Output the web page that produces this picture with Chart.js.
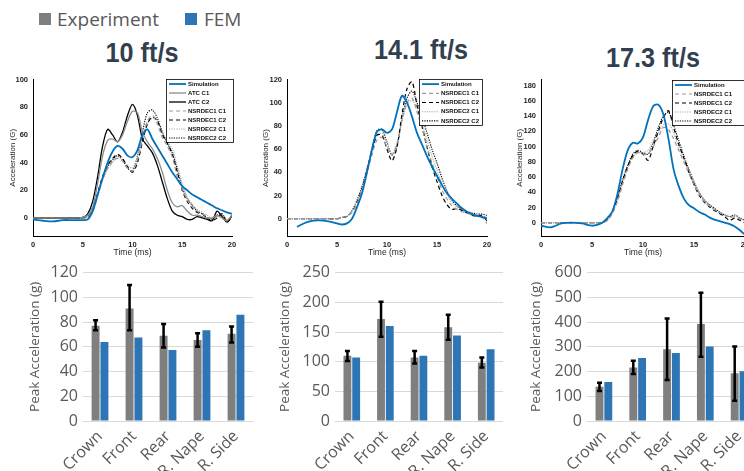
<!DOCTYPE html>
<html lang="en">
<head>
<meta charset="UTF-8">
<script src="https://cdn.jsdelivr.net/npm/chart.js"></script>
<title>Peak acceleration</title>
<style>
    body { margin: 0; width: 744px; height: 471px; overflow: hidden; background: #fff; position: relative; font-family: "Open Sans", sans-serif; }
    canvas { position: absolute; }
    .tit { position: absolute; font-family: "Liberation Sans", Arial, sans-serif; font-weight: bold; font-size: 28px; color: #323f4f; line-height: 1; white-space: nowrap; transform: translateX(-50%) scaleX(0.9); }
    .leg { position: absolute; top: 10px; font-size: 19px; color: #595959; line-height: 1; }
    .sq { position: absolute; top: 13px; width: 12px; height: 12px; }
</style>
</head>
<body>
    <div class="sq" style="left:39px; background:#7f7f7f;"></div>
    <div class="leg" style="left:57px;">Experiment</div>
    <div class="sq" style="left:185px; background:#2e75b6;"></div>
    <div class="leg" style="left:204px;">FEM</div>

    <div class="tit" style="left:142px; top:39px;">10 ft/s</div>
    <div class="tit" style="left:421px; top:36px;">14.1 ft/s</div>
    <div class="tit" style="left:653px; top:44px;">17.3 ft/s</div>

    <canvas id="l1" width="245" height="190" style="left:0px; top:70px;"></canvas>
    <canvas id="l2" width="250" height="190" style="left:248px; top:70px;"></canvas>
    <canvas id="l3" width="260" height="190" style="left:500px; top:70px;"></canvas>
    <canvas id="b1" width="258" height="213" style="left:0px; top:258px;"></canvas>
    <canvas id="b2" width="256" height="213" style="left:252px; top:258px;"></canvas>
    <canvas id="b3" width="260" height="213" style="left:505px; top:258px;"></canvas>

<script>
    // time base (ms) shared by the acceleration traces
    var tempo = [0, 1, 2, 3, 4, 5, 5.5, 6, 6.5, 7, 7.5, 8, 8.5, 9, 9.5, 10, 10.5, 11, 11.5, 12, 12.5, 13, 13.5, 14, 14.5, 15, 15.5, 16, 16.5, 17, 17.5, 18, 18.5, 19, 19.5, 20];

    // 10 ft/s
    var sim1 = [-1, -2, -2.5, -1.5, -1.5, -1.5, -1, 5, 17, 29, 40, 48, 52, 50, 45, 44, 49, 60, 64, 57, 51, 45, 39, 33, 28, 23, 20, 17, 15, 13, 11, 9, 7, 5.5, 4, 3];
    var atc1_1 = [0, 0, 0, 0, 0, 0.5, 2, 8, 25, 45, 56, 57, 55, 60, 70, 77, 76, 62, 55, 50, 43, 33, 20, 11, 8, 9, 5, 2, 2, 1, 0, 0, 2, 0, -2, 2];
    var atc2_1 = [0, 0, 0, 0, 0, 0.5, 3, 12, 30, 52, 64, 60, 55, 62, 74, 82, 74, 57, 52, 47, 38, 26, 14, 5, 2, 1, -1, -1, 1, 0, -1, -2, 5, 1, -3, 2];
    var n11_1 = [0, 0, 0, 0, 0, 0, 1, 5, 16, 28, 36, 41, 43, 41, 36, 34, 42, 57, 70, 74, 68, 58, 52, 44, 30, 21, 13, 8, 5, 3, 1, -1, 1, 2, -2, 1];
    var n12_1 = [0, 0, 0, 0, 0, 0, 1, 6, 18, 30, 38, 43, 46, 43, 37, 33, 40, 55, 68, 73, 70, 60, 54, 46, 33, 20, 12, 7, 4, 3, 0, -2, 0, 3, -3, 1];
    var n21_1 = [0, 0, 0, 0, 0, 0, 1, 5, 15, 27, 35, 40, 44, 42, 38, 36, 44, 58, 68, 72, 70, 62, 55, 50, 38, 25, 15, 10, 6, 4, 2, 0, 1, 2, -1, 2];
    var n22_1 = [0, 0, 0, 0, 0, 0, 1, 6, 17, 29, 37, 42, 45, 42, 36, 34, 45, 62, 76, 78, 72, 62, 54, 47, 35, 22, 14, 9, 5, 3, 0, -1, 2, 3, -2, 1];

    // 14.1 ft/s
    var sim2 = [null, -7, -3, -1.5, -2, -4, -5, -4, 0, 10, 22, 40, 60, 75, 77, 74, 77, 92, 106, 100, 88, 74, 64, 54, 45, 37, 29, 22, 17, 13, 9, 6, 4, 2.5, 1.5, 0.5];
    var n11_2 = [0, 0, 0, 0, 0, 0, 1, 2, 6, 13, 25, 40, 55, 68, 70, 62, 55, 65, 85, 100, 104, 92, 78, 62, 48, 36, 25, 17, 11, 8, 6, 5, 3, 2, 1, -4];
    var n12_2 = [0, 0, 0, 0, 0, 0, 1, 2, 6, 14, 26, 42, 58, 72, 72, 60, 50, 62, 90, 112, 118, 98, 80, 62, 45, 32, 20, 12, 8, 9, 7, 5, 3, 2, 3, -2];
    var n21_2 = [0, 0, 0, 0, 0, 0, 1, 2, 7, 15, 26, 40, 57, 72, 74, 65, 56, 64, 84, 98, 102, 95, 83, 68, 54, 42, 30, 21, 14, 10, 7, 6, 4, 3, 2, 2];
    var n22_2 = [0, 0, 0, 0, 0, 0, 1, 2, 7, 16, 28, 43, 60, 76, 77, 66, 55, 63, 86, 104, 110, 100, 88, 74, 60, 48, 35, 24, 16, 11, 8, 6, 5, 4, 4, 3];

    // 17.3 ft/s
    var sim3 = [-4, -6, -1, 0, -1, -4, -3, 0, 6, 15, 38, 70, 95, 105, 104, 112, 135, 153, 155, 142, 110, 70, 48, 32, 23, 19, 14, 11, 7, 4, 2, 0, -2, -5, -10, -16];
    var n11_3 = [0, 0, 0, 0, 0, 0, 0, 0, 3, 12, 28, 50, 70, 85, 92, 90, 90, 100, 112, 125, 122, 110, 95, 80, 65, 50, 38, 28, 22, 17, 13, 10, 7, 8, 5, 2];
    var n12_3 = [0, 0, 0, 0, 0, 0, 0, 0, 4, 15, 32, 55, 74, 88, 94, 90, 82, 100, 120, 138, 147, 125, 103, 85, 66, 50, 36, 27, 21, 16, 12, 8, 3, 6, 3, 0];
    var n21_3 = [0, 0, 0, 0, 0, 0, 0, 0, 3, 13, 30, 52, 72, 86, 92, 92, 95, 108, 118, 128, 130, 118, 100, 85, 68, 52, 40, 30, 23, 18, 14, 11, 8, 9, 5, 3];
    var n22_3 = [0, 0, 0, 0, 0, 0, 0, 0, 4, 15, 33, 56, 75, 90, 95, 92, 90, 105, 125, 140, 145, 128, 108, 88, 70, 54, 40, 30, 24, 19, 14, 10, 8, 10, 6, 3];

    var tempoTicks = [0, 5, 10, 15, 20];
    var yTicks1 = [0, 20, 40, 60, 80, 100];
    var yTicks2 = [0, 20, 40, 60, 80, 100, 120];
    var yTicks3 = [0, 20, 40, 60, 80, 100, 120, 140, 160, 180];

    // peak acceleration bars
    var setores = ['Crown', 'Front', 'Rear', 'R. Nape', 'R. Side'];
    var exp10 = [77, 91, 69, 65.5, 70.5];
    var fem10 = [64, 67.5, 57.5, 73.5, 86];
    var min10 = [73.5, 73.5, 59.5, 60, 63.5];
    var max10 = [81.5, 110, 78.5, 71, 76.5];
    var exp14 = [110, 172, 107, 158, 98];
    var fem14 = [107, 160, 110, 144, 121];
    var min14 = [101, 142, 97, 137, 90];
    var max14 = [118, 201, 118, 179, 107];
    var exp17 = [139, 216, 290, 392, 193];
    var fem17 = [158, 255, 275, 301, 201];
    var min17 = [121, 190, 166, 260, 82];
    var max17 = [155, 244, 415, 519, 301];

    var AZUL = '#0072bd';
    var CINZA = '#8c8c8c';
    var PRETO = '#000000';

    // legend drawn inside the plot, matlab style
    var legendaDentro = {
        id: 'legendaDentro',
        afterDraw: function (chart, args, o) {
            var c = chart.ctx;
            var n = chart.data.datasets.length;
            var row = o.h / n;
            c.save();
            c.fillStyle = '#fff';
            c.fillRect(o.x, o.y, o.w, o.h);
            c.strokeStyle = '#000';
            c.lineWidth = 0.8;
            c.strokeRect(o.x + 0.5, o.y + 0.5, o.w, o.h);
            c.font = 'bold 6px "Liberation Sans", Arial, sans-serif';
            c.textBaseline = 'middle';
            chart.data.datasets.forEach(function (ds, i) {
                var yy = o.y + row * (i + 0.5) + 0.5;
                c.strokeStyle = ds.borderColor;
                c.lineWidth = ds.borderWidth;
                c.setLineDash(ds.borderDash);
                c.beginPath();
                c.moveTo(o.x + 3, yy);
                c.lineTo(o.x + 20, yy);
                c.stroke();
                c.setLineDash([]);
                c.fillStyle = '#111';
                c.fillText(ds.label, o.x + 22, yy);
            });
            c.restore();
        }
    };

    var errorBars = {
        id: 'errorBars',
        afterDatasetsDraw: function (chart, args, o) {
            var meta = chart.getDatasetMeta(0);
            var y = chart.scales.y;
            var c = chart.ctx;
            c.save();
            c.strokeStyle = '#000';
            c.lineWidth = 2.5;
            meta.data.forEach(function (bar, i) {
                var topo = y.getPixelForValue(o.hi[i]);
                var base = y.getPixelForValue(o.lo[i]);
                c.beginPath();
                c.moveTo(bar.x, topo);
                c.lineTo(bar.x, base);
                c.moveTo(bar.x - 2.5, topo);
                c.lineTo(bar.x + 2.5, topo);
                c.moveTo(bar.x - 2.5, base);
                c.lineTo(bar.x + 2.5, base);
                c.stroke();
            });
            c.restore();
        }
    };

    function serie(label, data, cor, largura, traco) {
        return {
            label: label,
            data: tempo.map(function (t, i) { return { x: t, y: data[i] }; }),
            borderColor: cor,
            borderWidth: largura,
            borderDash: traco,
            pointRadius: 0,
            tension: 0.3,
            spanGaps: true,
            fill: false
        };
    }

    function criarLinha(id, pos, datasets, ymin, ymax, yticks, leg, titPad) {
        var fonteTick = { family: '"Liberation Sans", Arial, sans-serif', size: 7.5, weight: 'bold' };
        return new Chart(document.getElementById(id), {
            type: 'line',
            data: { datasets: datasets },
            options: {
                responsive: false,
                animation: false,
                layout: { padding: { top: pos.y0 - pos.top, right: pos.left + pos.w - pos.x1, left: 0, bottom: 0 } },
                plugins: { legend: { display: false }, tooltip: { enabled: false }, legendaDentro: leg },
                scales: {
                    x: {
                        type: 'linear', min: 0, max: 20,
                        afterBuildTicks: function (s) { s.ticks = tempoTicks.map(function (v) { return { value: v }; }); },
                        afterFit: function (s) { s.height = pos.top + pos.h - pos.y1; },
                        grid: { display: false, drawTicks: false },
                        border: { display: true, color: '#000', width: 1 },
                        ticks: { color: '#262626', font: fonteTick, padding: 4, maxRotation: 0 },
                        title: { display: true, text: 'Time (ms)', color: '#262626', font: { family: '"Liberation Sans", Arial, sans-serif', size: 8.5 }, padding: { top: 0, bottom: 2 } }
                    },
                    y: {
                        min: ymin, max: ymax,
                        afterBuildTicks: function (s) { s.ticks = yticks.map(function (v) { return { value: v }; }); },
                        afterFit: function (s) { s.width = pos.x0 - pos.left; },
                        grid: { display: false, drawTicks: false },
                        border: { display: true, color: '#000', width: 1 },
                        ticks: { color: '#262626', font: fonteTick, padding: 5 },
                        title: { display: true, text: 'Acceleration (G)', color: '#262626', font: { family: '"Liberation Sans", Arial, sans-serif', size: 8 }, padding: { top: titPad, bottom: 0 } }
                    }
                }
            },
            plugins: [legendaDentro]
        });
    }

    function criarBarra(id, pos, exp, fem, lo, hi, ymax, passo, titPad) {
        return new Chart(document.getElementById(id), {
            type: 'bar',
            data: {
                labels: setores,
                datasets: [
                    { label: 'Experiment', data: exp, backgroundColor: '#7f7f7f', categoryPercentage: 0.52, barPercentage: 0.9 },
                    { label: 'FEM', data: fem, backgroundColor: '#2e75b6', categoryPercentage: 0.52, barPercentage: 0.9 }
                ]
            },
            options: {
                responsive: false,
                animation: false,
                layout: { padding: { top: pos.y0 - pos.top, right: pos.left + pos.w - pos.x1, left: 0, bottom: 0 } },
                plugins: { legend: { display: false }, tooltip: { enabled: false }, errorBars: { lo: lo, hi: hi } },
                scales: {
                    x: {
                        afterFit: function (s) { s.height = pos.top + pos.h - pos.y1; },
                        grid: { display: false, drawTicks: false },
                        border: { display: false },
                        ticks: { color: '#595959', font: { family: '"Open Sans", sans-serif', size: 16 }, minRotation: 45, maxRotation: 45, autoSkip: false, padding: 6 }
                    },
                    y: {
                        min: 0, max: ymax,
                        afterFit: function (s) { s.width = pos.x0 - pos.left; },
                        grid: { color: '#d9d9d9', lineWidth: 1, drawTicks: false },
                        border: { display: false },
                        ticks: { stepSize: passo, color: '#595959', font: { family: '"Open Sans", sans-serif', size: 16 }, padding: 5 },
                        title: { display: true, text: 'Peak Acceleration (g)', color: '#595959', font: { family: '"Open Sans", sans-serif', size: 13.5 }, padding: { top: titPad, bottom: 0 } }
                    }
                }
            },
            plugins: [errorBars]
        });
    }

    criarLinha('l1', { left: 0, top: 70, w: 245, h: 190, x0: 33, x1: 232, y0: 75.7, y1: 236 }, [
        serie('Simulation', sim1, AZUL, 1.8, []),
        serie('ATC C1', atc1_1, CINZA, 1.3, []),
        serie('ATC C2', atc2_1, PRETO, 1.3, []),
        serie('NSRDEC1 C1', n11_1, '#9a9a9a', 1.2, [4, 3]),
        serie('NSRDEC1 C2', n12_1, PRETO, 1.2, [4, 3]),
        serie('NSRDEC2 C1', n21_1, '#aaaaaa', 1.1, [1.2, 1.2]),
        serie('NSRDEC2 C2', n22_1, PRETO, 1.1, [1.2, 1.2])
    ], -13, 100, yTicks1, { x: 166, y: 9, w: 67, h: 63 }, 8);

    criarLinha('l2', { left: 248, top: 70, w: 250, h: 190, x0: 287, x1: 487, y0: 75.7, y1: 236.7 }, [
        serie('Simulation', sim2, AZUL, 1.8, []),
        serie('NSRDEC1 C1', n11_2, '#9a9a9a', 1.2, [4, 3]),
        serie('NSRDEC1 C2', n12_2, PRETO, 1.2, [4, 3]),
        serie('NSRDEC2 C1', n21_2, '#aaaaaa', 1.1, [1.2, 1.2]),
        serie('NSRDEC2 C2', n22_2, PRETO, 1.1, [1.2, 1.2])
    ], -15.5, 120, yTicks2, { x: 171, y: 9, w: 63, h: 46 }, 13);

    criarLinha('l3', { left: 500, top: 70, w: 260, h: 190, x0: 541, x1: 745, y0: 75.7, y1: 236 }, [
        serie('Simulation', sim3, AZUL, 1.8, []),
        serie('NSRDEC1 C1', n11_3, '#9a9a9a', 1.2, [4, 3]),
        serie('NSRDEC1 C2', n12_3, PRETO, 1.2, [4, 3]),
        serie('NSRDEC2 C1', n21_3, '#aaaaaa', 1.1, [1.2, 1.2]),
        serie('NSRDEC2 C2', n22_3, PRETO, 1.1, [1.2, 1.2])
    ], -17.5, 188, yTicks3, { x: 172, y: 10, w: 73, h: 45 }, 15);

    criarBarra('b1', { left: 0, top: 258, w: 258, h: 213, x0: 83, x1: 253, y0: 272.7, y1: 421 }, exp10, fem10, min10, max10, 120, 20, 27);
    criarBarra('b2', { left: 252, top: 258, w: 256, h: 213, x0: 335, x1: 503, y0: 272.7, y1: 421 }, exp14, fem14, min14, max14, 250, 50, 25);
    criarBarra('b3', { left: 505, top: 258, w: 260, h: 213, x0: 587, x1: 756, y0: 272.7, y1: 421 }, exp17, fem17, min17, max17, 600, 100, 23.5);
</script>
</body>
</html>
